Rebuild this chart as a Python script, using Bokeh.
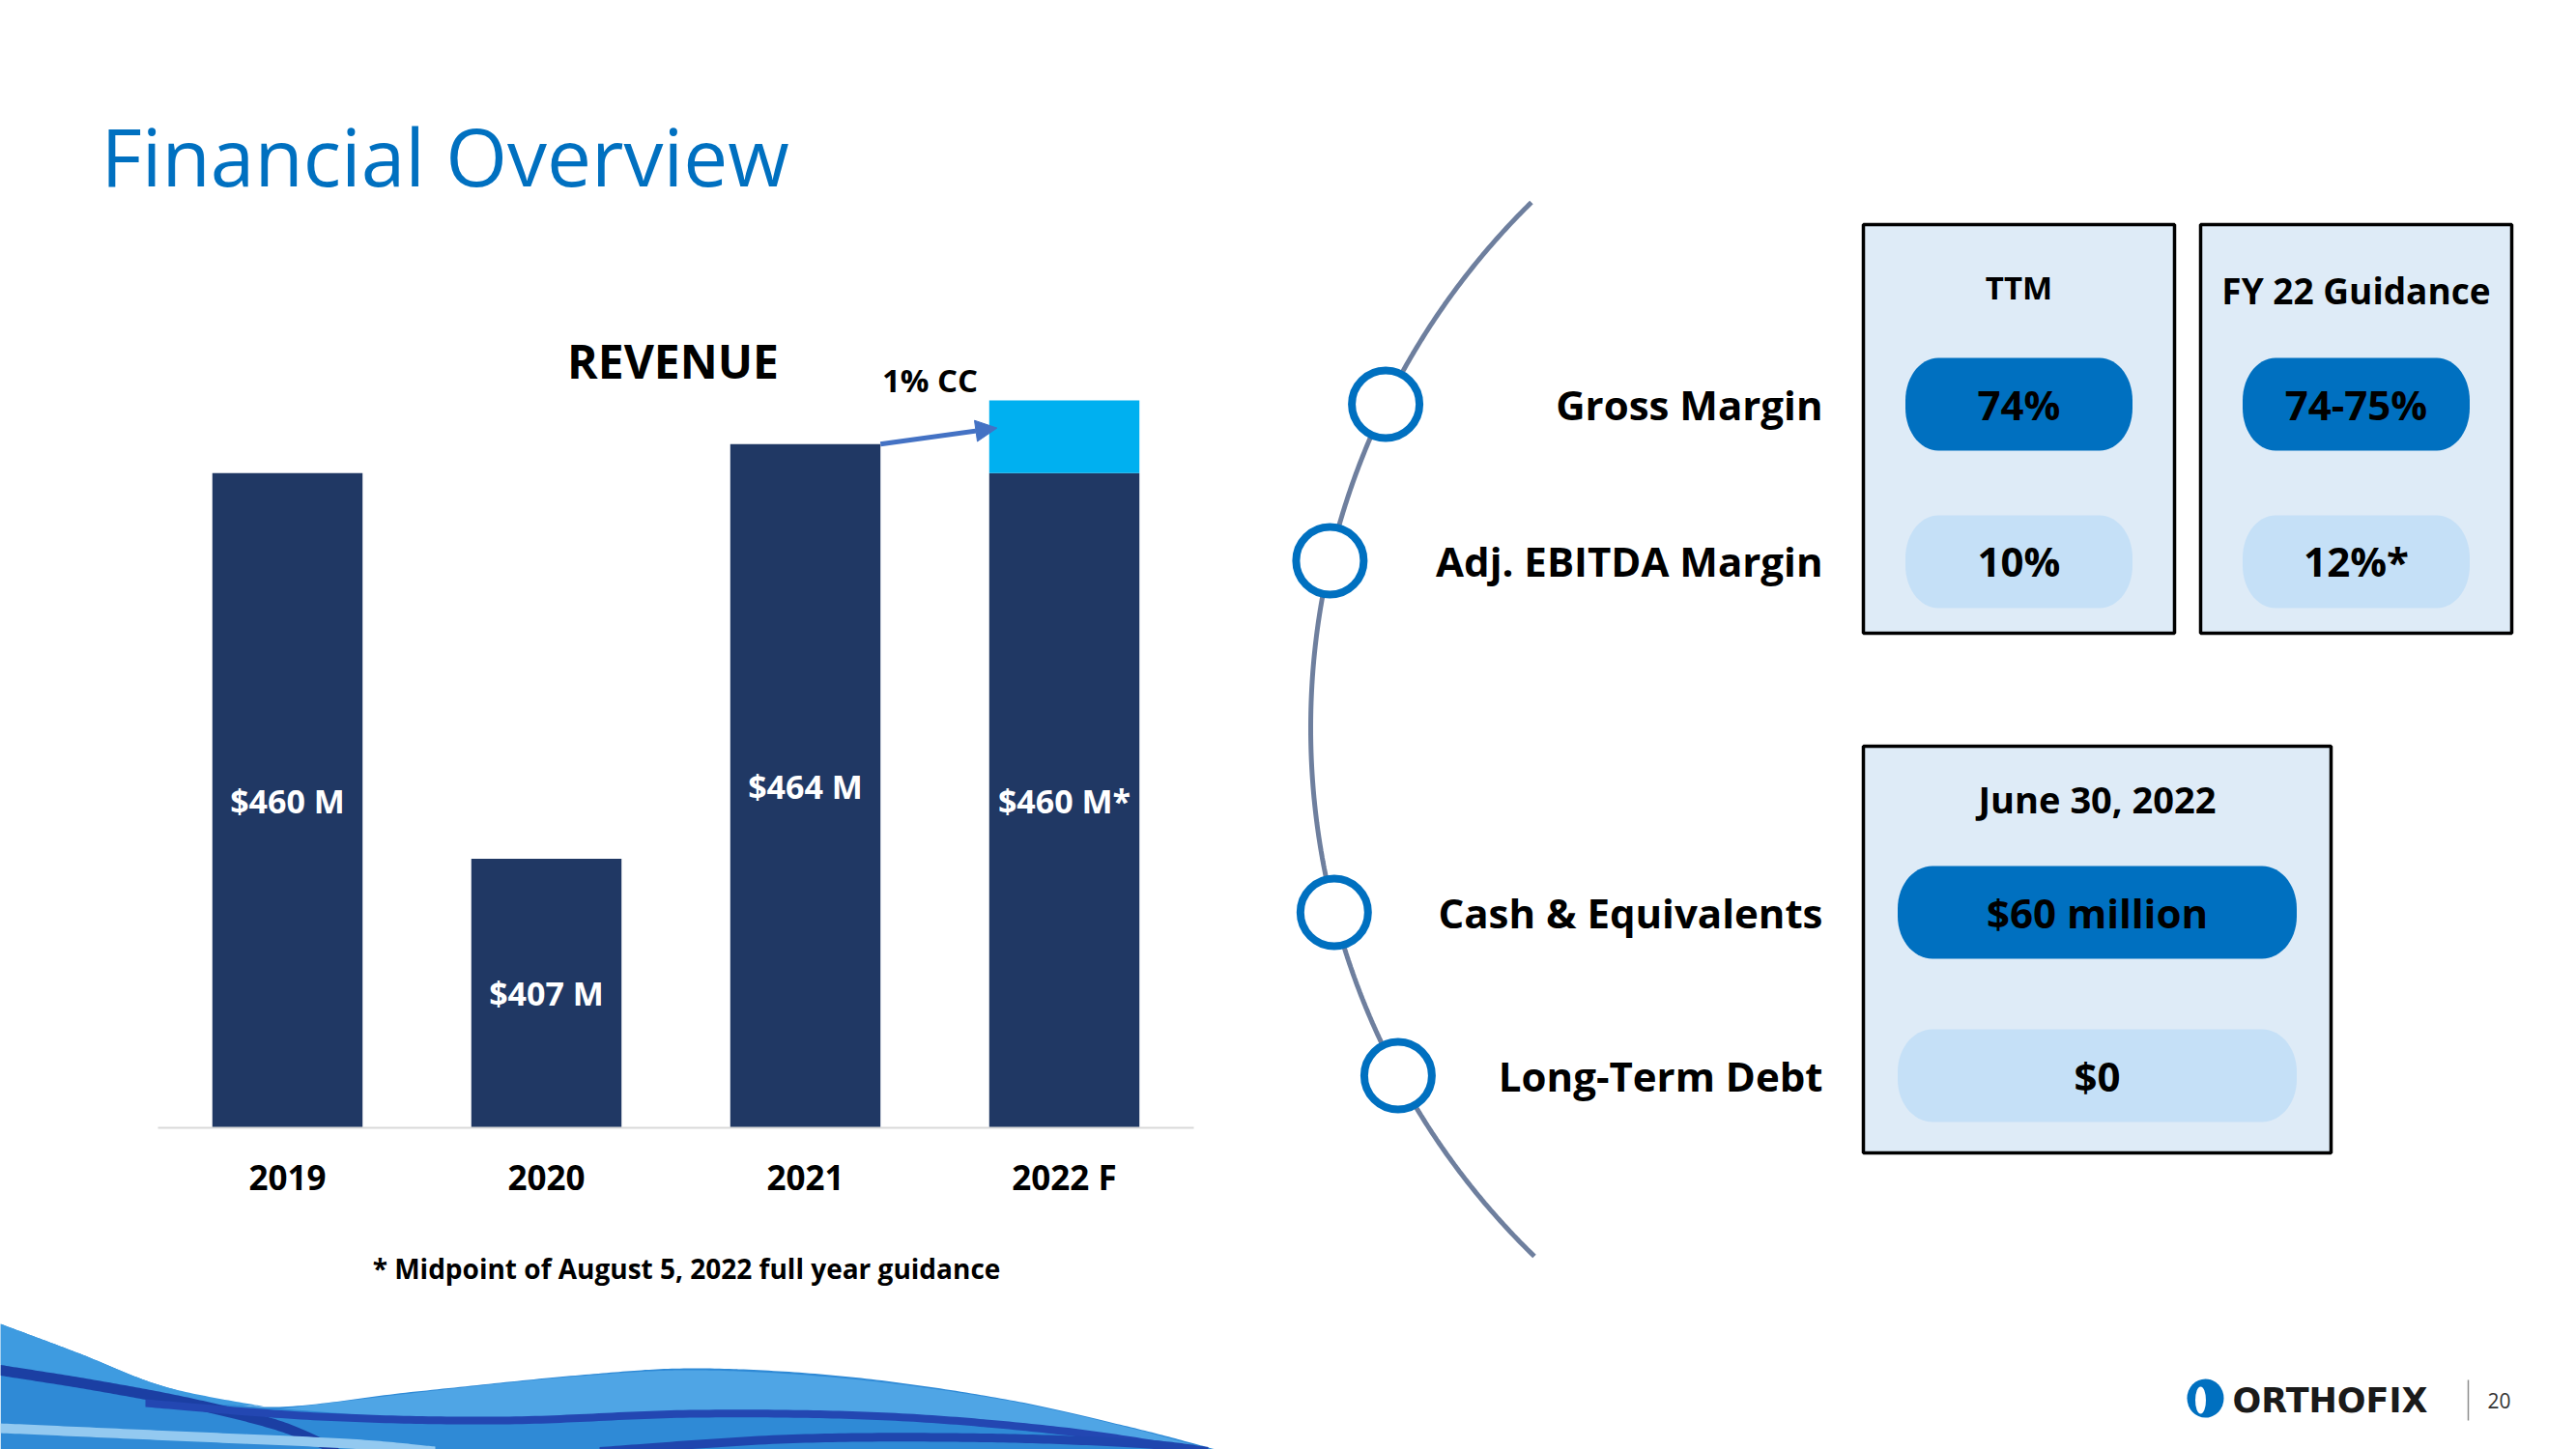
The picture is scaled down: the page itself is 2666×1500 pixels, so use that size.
import numpy as np
from bokeh.plotting import figure
from bokeh.models import Range1d, Arrow, NormalHead
from bokeh.core.properties import value
from bokeh.embed import file_html
from bokeh.resources import INLINE

# ---------------- data ----------------
title = "Financial Overview"
years = ["2019", "2020", "2021", "2022 F"]
revenue = [460, 407, 464, 460]                      # $ millions
revenue_labels = ["$460 M", "$407 M", "$464 M", "$460 M*"]
cc_growth = [0, 0, 0, 10]                           # constant-currency growth segment ($M)
chart_title = "REVENUE"
cc_label = "1% CC"
footnote = "* Midpoint of August 5, 2022 full year guidance"

margin_rows = ["Gross Margin", "Adj. EBITDA Margin"]
margin_headers = ["TTM", "FY 22 Guidance"]
ttm_values = ["74%", "10%"]
fy22_values = ["74-75%", "12%*"]

balance_rows = ["Cash & Equivalents", "Long-Term Debt"]
balance_header = "June 30, 2022"
balance_values = ["$60 million", "$0"]

brand = "ORTHOFIX"
page_number = "20"

# ---------------- style ----------------
W, H = 2666, 1500
FONT = value("Open Sans")
NAVY = "#203864"
CYAN = "#00B0F0"
BLUE = "#0070C0"
LIGHT = "#C5E0F7"
PANEL = "#DEEBF7"
ARROW_C = "#4472C4"
ARC_C = "#6E7F9E"

p = figure(width=W, height=H, x_range=Range1d(0, W), y_range=Range1d(H, 0),
           output_backend="svg", toolbar_location=None, min_border=0)
p.xaxis.visible = False
p.yaxis.visible = False
p.grid.visible = False
p.outline_line_color = None
p.background_fill_color = "white"
p.border_fill_color = "white"


def txt(x, y, s, size, color="black", bold=True, align="center", baseline="middle", font=FONT, **kw):
    p.text(x=[x], y=[y], text=[s], text_font=font, text_font_size=f"{size}px",
           text_font_style="bold" if bold else "normal", text_color=color,
           text_align=align, text_baseline=baseline, **kw)


def spline(pts, n=30):
    pts = np.asarray(pts, float)
    P = np.vstack([pts[0], pts, pts[-1]])
    out = []
    t = np.linspace(0, 1, n, endpoint=False)[:, None]
    for i in range(1, len(P) - 2):
        p0, p1, p2, p3 = P[i - 1], P[i], P[i + 1], P[i + 2]
        out.append(0.5 * ((2 * p1) + (-p0 + p2) * t + (2 * p0 - 5 * p1 + 4 * p2 - p3) * t ** 2
                          + (-p0 + 3 * p1 - 3 * p2 + p3) * t ** 3))
    out.append(P[-2][None, :])
    return np.vstack(out)


def rounded_rect(cx, cy, w, h, rx, ry, n=16):
    xs, ys = [], []
    corners = [(cx + w / 2 - rx, cy - h / 2 + ry, -np.pi / 2, 0),
               (cx + w / 2 - rx, cy + h / 2 - ry, 0, np.pi / 2),
               (cx - w / 2 + rx, cy + h / 2 - ry, np.pi / 2, np.pi),
               (cx - w / 2 + rx, cy - h / 2 + ry, np.pi, 1.5 * np.pi)]
    for (ccx, ccy, a0, a1) in corners:
        a = np.linspace(a0, a1, n)
        xs.extend(ccx + rx * np.cos(a))
        ys.extend(ccy + ry * np.sin(a))
    return xs, ys


# ---------------- title ----------------
txt(104, 160, title, 82, color=BLUE, bold=False, align="left")

# ---------------- revenue bar chart ----------------
AXIS_MIN = 370
BASE_Y = 1167
PX = 7.53
X0 = 297
STEP = 268
BAR_W = 0.58
p.extra_x_ranges = {"yr": Range1d(-X0 / STEP, (W - X0) / STEP)}
p.extra_y_ranges = {"rev": Range1d(AXIS_MIN - (H - BASE_Y) / PX, AXIS_MIN + BASE_Y / PX)}
R = dict(x_range_name="yr", y_range_name="rev")

idx = list(range(len(years)))
p.vbar(x=idx, width=BAR_W, bottom=AXIS_MIN, top=revenue, fill_color=NAVY, line_color=None, **R)
cc_idx = [i for i, c in enumerate(cc_growth) if c > 0]
p.vbar(x=cc_idx, width=BAR_W, bottom=[revenue[i] for i in cc_idx],
       top=[revenue[i] + cc_growth[i] for i in cc_idx], fill_color=CYAN, line_color=None, **R)
p.segment(x0=[-0.5], x1=[len(years) - 0.5], y0=[AXIS_MIN], y1=[AXIS_MIN],
          line_color="#D9D9D9", line_width=2, **R)
p.text(x=idx, y=[(AXIS_MIN + r) / 2 for r in revenue], text=revenue_labels, text_font=FONT,
       text_font_size="34px", text_font_style="bold", text_color="white",
       text_align="center", text_baseline="middle", **R)
p.text(x=idx, y=[AXIS_MIN - 51 / PX] * len(years), text=years, text_font=FONT,
       text_font_size="35px", text_font_style="bold", text_color="black",
       text_align="center", text_baseline="middle", **R)

p.add_layout(Arrow(end=NormalHead(size=22, fill_color=ARROW_C, line_color=ARROW_C, line_width=1),
                   x_start=2 + BAR_W / 2, y_start=revenue[2],
                   x_end=3 - BAR_W / 2 + 0.03, y_end=revenue[3] + cc_growth[3] * 0.62,
                   line_color=ARROW_C, line_width=5, **R))

txt(696, 373, chart_title, 48)
txt(962, 393, cc_label, 33)
txt(710, 1312, footnote, 28)

# ---------------- right panel ----------------
CX, CY, RAD = 2118, 753, 762
ys = np.linspace(209, 1300, 300)
xs = CX - np.sqrt(RAD ** 2 - (ys - CY) ** 2)
p.line(xs, ys, line_color=ARC_C, line_width=5)

row_y = [418, 580, 944, 1113]
node_x = [CX - np.sqrt(RAD ** 2 - (y - CY) ** 2) for y in row_y]
p.scatter(node_x, row_y, size=70, marker="circle", fill_color="white", line_color=BLUE, line_width=8)

for label, y in zip(margin_rows + balance_rows, row_y):
    txt(1886, y, label, 42, align="right")

# boxes
p.quad(left=[1928, 2277, 1928], right=[2250, 2599, 2412], top=[232, 232, 772],
       bottom=[655, 655, 1193], fill_color=PANEL, line_color="black", line_width=3.5)

box_cx = [2089, 2438]
txt(box_cx[0], 297, margin_headers[0], 33)
txt(box_cx[1], 300, margin_headers[1], 37)
txt(2170, 826, balance_header, 38)

pill_xs, pill_ys, pill_cols = [], [], []
pill_txt = []
for cx, vals in zip(box_cx, [ttm_values, fy22_values]):
    for k, (y, v) in enumerate(zip(row_y[:2], vals)):
        a, b = rounded_rect(cx, y + (1 if k else 0), 235, 96, 34, 44)
        pill_xs.append(a); pill_ys.append(b)
        pill_cols.append(BLUE if k == 0 else LIGHT)
        pill_txt.append((cx, y, v))
for k, (y, v) in enumerate(zip(row_y[2:], balance_values)):
    a, b = rounded_rect(2170, y, 413, 96, 36, 44)
    pill_xs.append(a); pill_ys.append(b)
    pill_cols.append(BLUE if k == 0 else LIGHT)
    pill_txt.append((2170, y, v))
p.patches(pill_xs, pill_ys, fill_color=pill_cols, line_color=None)
for (x, y, v) in pill_txt:
    txt(x, y, v, 42)

# ---------------- bottom wave decoration ----------------
def band(center, thick):
    c = spline(center)
    return list(c[:, 0]) + list(c[::-1, 0]), list(c[:, 1] - thick / 2) + list(c[::-1, 1] + thick / 2)

top = spline([(0, 1370), (80, 1400), (170, 1435), (275, 1456), (430, 1440), (600, 1423), (725, 1416),
              (880, 1425), (1040, 1448), (1170, 1477), (1258, 1500)])
p.patch(list(top[:, 0]) + [1258, 0], list(top[:, 1]) + [1500, 1500], fill_color="#2F8AD6", line_color=None)

crest_t = spline([(290, 1458), (450, 1439), (600, 1424), (725, 1418), (880, 1427), (1040, 1449),
                  (1170, 1478), (1250, 1500)])
crest_b = spline([(1250, 1500), (1100, 1480), (900, 1468), (700, 1466), (500, 1471), (290, 1458)])
p.patch(list(crest_t[:, 0]) + list(crest_b[:, 0]), list(crest_t[:, 1]) + list(crest_b[:, 1]),
        fill_color="#55A9E8", fill_alpha=0.85, line_color=None)

sheet_t = spline([(0, 1370), (80, 1400), (170, 1435), (275, 1456)])
sheet_b = spline([(275, 1456), (150, 1446), (0, 1412)])
p.patch(list(sheet_t[:, 0]) + list(sheet_b[:, 0]), list(sheet_t[:, 1]) + list(sheet_b[:, 1]),
        fill_color="#3E9BE0", line_color=None)

for center, th, col in [
    ([(0, 1418), (100, 1434), (200, 1453), (290, 1476), (350, 1502)], 11, "#1B3FA3"),
    ([(150, 1452), (330, 1466), (520, 1470), (720, 1463), (920, 1466), (1100, 1481), (1240, 1502)], 8, "#2347B2"),
    ([(0, 1478), (180, 1486), (360, 1494), (450, 1502)], 10, "#93C9F0"),
    ([(620, 1502), (820, 1489), (1020, 1488), (1180, 1494), (1250, 1502)], 9, "#1F46AE"),
]:
    bx, by = band(center, th)
    p.patch(bx, by, fill_color=col, line_color=None)

# ---------------- footer logo ----------------
p.ellipse(x=[2282], y=[1447], width=38, height=40, fill_color=BLUE, line_color=None)
p.ellipse(x=[2277], y=[1449], width=11, height=28, fill_color="white", line_color=None)
txt(2310, 1449, brand, 35, color="#1A1A1A", align="left", font=value("DejaVu Sans"))
p.segment(x0=[2554], x1=[2554], y0=[1428], y1=[1470], line_color="#8C8C8C", line_width=1.5)
txt(2586, 1449, page_number, 21, color="#333333", bold=False)

open("out.html", "w").write(file_html(p, INLINE))
